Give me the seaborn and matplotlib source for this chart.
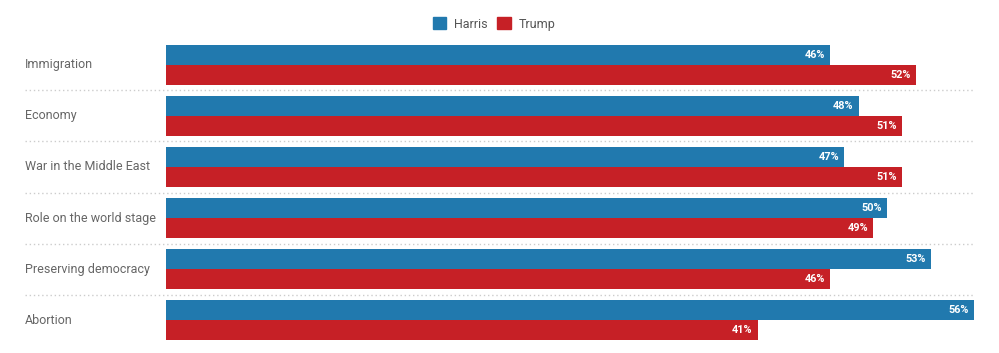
import matplotlib
matplotlib.use("Agg")
import matplotlib.pyplot as plt
import matplotlib.patches as mpatches
import matplotlib.transforms as mtransforms
import seaborn as sns
import pandas as pd

issues = ["Immigration", "Economy", "War in the Middle East",
          "Role on the world stage", "Preserving democracy", "Abortion"]
harris = [46, 48, 47, 50, 53, 56]
trump = [52, 51, 51, 49, 46, 41]
candidates = ["Harris", "Trump"]
colors = {"Harris": "#2179ae", "Trump": "#c62026"}

df = pd.DataFrame({
    "issue": issues * 2,
    "candidate": ["Harris"] * len(issues) + ["Trump"] * len(issues),
    "value": harris + trump,
})

sns.set_theme(style="white")
plt.rcParams['font.family'] = ['Roboto', 'DejaVu Sans']

W, H = 999, 353
fig = plt.figure(figsize=(W / 100, H / 100), dpi=100)
left, right = 166 / W, 974 / W
top_px, bot_px = 45, 340
ax = fig.add_axes([left, 1 - bot_px / H, right - left, (bot_px - top_px) / H])

sns.barplot(data=df, y="issue", x="value", hue="candidate", order=issues,
            hue_order=candidates, palette=colors, width=0.784, orient="h",
            saturation=1, ax=ax, legend=False, linewidth=0, errorbar=None)

ax.set_xlim(0, 56)
ax.set_ylim(len(issues) - 1 + 0.392, -0.392)
for s in ax.spines.values():
    s.set_visible(False)
ax.set_xticks([])
ax.set_yticks([])
ax.set_xlabel("")
ax.set_ylabel("")

# value labels
off = mtransforms.offset_copy(ax.transData, fig=fig, x=-5, y=0, units="dots")
for cont in ax.containers:
    for bar in cont:
        w = bar.get_width()
        yc = bar.get_y() + bar.get_height() / 2
        ax.text(w, yc, f"{w:.0f}%", transform=off, ha="right", va="center",
                color="white", fontsize=7.8, fontweight="bold")

# category labels
blend = mtransforms.blended_transform_factory(fig.transFigure, ax.transData)
for i, name in enumerate(issues):
    ax.text(25 / W, i, name, transform=blend, ha="left", va="center",
            color="#666666", fontsize=9)

# dotted separators
for i in range(len(issues) - 1):
    ax.plot([25 / W, 975 / W], [i + 0.5, i + 0.5], transform=blend,
            color="#cccccc", lw=1, ls=(0, (1, 2)), clip_on=False)

handles = [mpatches.Patch(color=colors[c], label=c) for c in candidates]
leg = fig.legend(handles=handles, loc="center", bbox_to_anchor=(0.4945, 1 - 24 / H),
                 ncol=2, frameon=False, fontsize=9, handlelength=1.05,
                 handleheight=1.05, handletextpad=0.65, columnspacing=0.8)
for t in leg.get_texts():
    t.set_color("#555555")

fig.savefig("out.png", dpi=100)
